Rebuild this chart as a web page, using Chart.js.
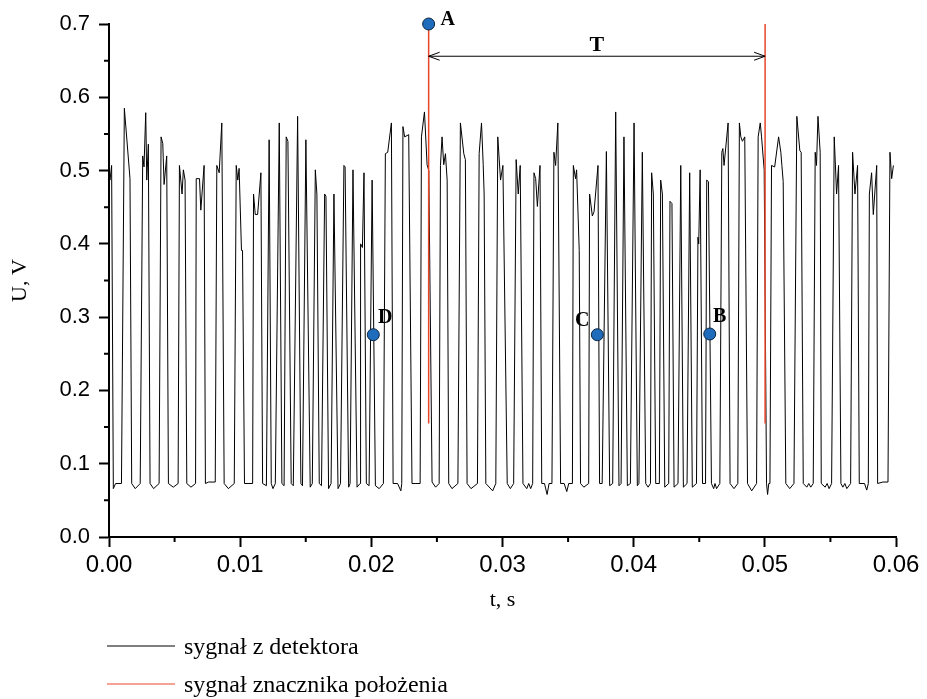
<!DOCTYPE html>
<html>
<head>
<meta charset="utf-8">
<script src="https://cdn.jsdelivr.net/npm/chart.js@4.4.1/dist/chart.umd.min.js"></script>
<style>
  html, body { margin: 0; padding: 0; background: #fff; }
  #wrap { width: 927px; height: 699px; }
</style>
</head>
<body>
<div id="wrap"><canvas id="signalChart" width="927" height="699"></canvas></div>
<script>
/*************************************************
 * DATA
 *************************************************/
// time, s
const signalT = [
  0, 0.00008, 0.00020, 0.00033, 0.00050, 0.00095,
  0.00117, 0.00160, 0.00173, 0.00200, 0.00238,
  0.00257, 0.00267, 0.00280, 0.00288, 0.00300, 0.00313, 0.00340, 0.00382,
  0.00397, 0.00410, 0.00420, 0.00440, 0.00453, 0.00490, 0.00527,
  0.00537, 0.00557, 0.00567, 0.00580, 0.00593, 0.00625, 0.00660,
  0.00665, 0.00690, 0.00700, 0.00725, 0.00735, 0.00760, 0.00810,
  0.00822, 0.00840, 0.00860, 0.00878, 0.00910, 0.00955,
  0.00970, 0.00982, 0.00992, 0.01010, 0.01018, 0.01033, 0.01060, 0.01095,
  0.01102, 0.01115, 0.01133, 0.01158, 0.01171, 0.01200,
  0.01221, 0.01237, 0.01250, 0.01268,
  0.01298, 0.01318, 0.01335,
  0.01351, 0.01364, 0.01389, 0.01405,
  0.01438, 0.01463, 0.01475,
  0.01501, 0.01534, 0.01550,
  0.01573, 0.01585, 0.01603, 0.01620,
  0.01644, 0.01654, 0.01674, 0.01693,
  0.01715, 0.01746, 0.01765,
  0.01791, 0.01800, 0.01827, 0.01838,
  0.01860, 0.01891, 0.01914,
  0.01918, 0.01932, 0.01944, 0.01962, 0.01983,
  0.02006, 0.02031, 0.02060, 0.02092,
  0.02107, 0.02125, 0.02153, 0.02166, 0.02200, 0.02225, 0.02232,
  0.02241, 0.02254, 0.02285, 0.02310, 0.02340, 0.02372,
  0.02382, 0.02405, 0.02425, 0.02438, 0.02463, 0.02490, 0.02517,
  0.02527, 0.02539, 0.02552, 0.02565, 0.02578, 0.02590, 0.02615, 0.02660,
  0.02679, 0.02705, 0.02717, 0.02730, 0.02760, 0.02809,
  0.02822, 0.02840, 0.02853, 0.02860, 0.02873, 0.02925, 0.02949,
  0.02964, 0.02985, 0.03003, 0.03036, 0.03060, 0.03085,
  0.03104, 0.03120, 0.03135, 0.03156, 0.03185, 0.03200, 0.03215, 0.03230,
  0.03240, 0.03253, 0.03266, 0.03286, 0.03299, 0.03320, 0.03340, 0.03355, 0.03377,
  0.03392, 0.03405, 0.03422, 0.03443, 0.03470, 0.03490, 0.03505, 0.03533,
  0.03540, 0.03557, 0.03565, 0.03585, 0.03595, 0.03620, 0.03657,
  0.03664, 0.03685, 0.03698, 0.03728, 0.03740, 0.03760,
  0.03792, 0.03817, 0.03840,
  0.03863, 0.03888, 0.03904,
  0.03926, 0.03952, 0.03975,
  0.04003, 0.04028, 0.04040,
  0.04066, 0.04092, 0.04110, 0.04128,
  0.04137, 0.04150, 0.04168, 0.04196,
  0.04206, 0.04219, 0.04237, 0.04267,
  0.04277, 0.04292, 0.04308, 0.04338,
  0.04359, 0.04379, 0.04407,
  0.04427, 0.04447, 0.04479,
  0.04490, 0.04496, 0.04507, 0.04525, 0.04548,
  0.04557, 0.04570, 0.04593, 0.04610, 0.04620, 0.04632, 0.04657,
  0.04672, 0.04680, 0.04689, 0.04720, 0.04735, 0.04765, 0.04794,
  0.04806, 0.04817, 0.04829, 0.04847, 0.04868, 0.04900, 0.04937,
  0.04949, 0.04965, 0.04975, 0.04995, 0.05013, 0.05021, 0.05030, 0.05039,
  0.05051, 0.05075, 0.05105, 0.05122, 0.05130, 0.05140, 0.05160, 0.05190, 0.05222,
  0.05244, 0.05267, 0.05277, 0.05293, 0.05320, 0.05335, 0.05350, 0.05369,
  0.05384, 0.05394, 0.05405, 0.05422, 0.05430, 0.05460, 0.05475, 0.05490, 0.05509,
  0.05529, 0.05547, 0.05562, 0.05580, 0.05595, 0.05610, 0.05625, 0.05654,
  0.05669, 0.05687, 0.05707, 0.05720, 0.05760, 0.05777, 0.05789,
  0.05797, 0.05814, 0.05827, 0.05853, 0.05860, 0.05900, 0.05939,
  0.05954, 0.05967, 0.05980
];

// detector voltage, V
const signalU = [
  0.490, 0.487, 0.507, 0.066, 0.073, 0.073,
  0.585, 0.489, 0.073, 0.066, 0.073,
  0.520, 0.505, 0.579, 0.487, 0.536, 0.073, 0.066, 0.073,
  0.546, 0.537, 0.481, 0.520, 0.073, 0.068, 0.073,
  0.507, 0.468, 0.501, 0.487, 0.073, 0.068, 0.073,
  0.489, 0.489, 0.446, 0.507, 0.073, 0.075, 0.075,
  0.507, 0.497, 0.565, 0.073, 0.066, 0.073,
  0.507, 0.487, 0.503, 0.391, 0.391, 0.073, 0.073, 0.073,
  0.468, 0.440, 0.440, 0.497, 0.073, 0.070,
  0.542, 0.073, 0.066, 0.073,
  0.565, 0.073, 0.070,
  0.546, 0.540, 0.073, 0.070,
  0.574, 0.073, 0.070,
  0.542, 0.068, 0.073,
  0.501, 0.468, 0.073, 0.070,
  0.468, 0.465, 0.066, 0.073,
  0.468, 0.066, 0.073,
  0.507, 0.505, 0.068, 0.073,
  0.501, 0.068, 0.073,
  0.400, 0.395, 0.497, 0.073, 0.070,
  0.487, 0.070, 0.066, 0.073,
  0.523, 0.525, 0.565, 0.073, 0.073, 0.063, 0.073,
  0.560, 0.546, 0.549, 0.073, 0.073, 0.073,
  0.546, 0.580, 0.508, 0.500, 0.075, 0.068, 0.073,
  0.507, 0.546, 0.508, 0.523, 0.487, 0.073, 0.066, 0.073,
  0.565, 0.523, 0.515, 0.073, 0.066, 0.073,
  0.523, 0.565, 0.508, 0.468, 0.073, 0.063, 0.073,
  0.546, 0.487, 0.507, 0.073, 0.066, 0.073,
  0.515, 0.468, 0.507, 0.073, 0.066, 0.073, 0.066, 0.073,
  0.497, 0.489, 0.451, 0.507, 0.073, 0.073, 0.058, 0.073, 0.073,
  0.525, 0.507, 0.565, 0.073, 0.073, 0.062, 0.073, 0.073,
  0.507, 0.489, 0.501, 0.391, 0.073, 0.068, 0.073,
  0.468, 0.438, 0.444, 0.507, 0.073, 0.073,
  0.526, 0.070, 0.073,
  0.580, 0.070, 0.073,
  0.546, 0.070, 0.073,
  0.565, 0.070, 0.073,
  0.525, 0.073, 0.068, 0.073,
  0.497, 0.468, 0.073, 0.073,
  0.487, 0.468, 0.068, 0.073,
  0.458, 0.455, 0.068, 0.073,
  0.507, 0.068, 0.073,
  0.497, 0.068, 0.073,
  0.409, 0.400, 0.501, 0.073, 0.073,
  0.487, 0.485, 0.073, 0.066, 0.073, 0.066, 0.073,
  0.525, 0.530, 0.507, 0.565, 0.073, 0.066, 0.073,
  0.565, 0.546, 0.540, 0.546, 0.073, 0.063, 0.073,
  0.546, 0.565, 0.546, 0.501, 0.073, 0.058, 0.073, 0.073,
  0.507, 0.505, 0.546, 0.525, 0.507, 0.485, 0.073, 0.066, 0.073,
  0.574, 0.527, 0.525, 0.073, 0.068, 0.073, 0.068, 0.073,
  0.525, 0.507, 0.574, 0.525, 0.073, 0.068, 0.073, 0.066, 0.073,
  0.546, 0.468, 0.507, 0.073, 0.068, 0.073, 0.066, 0.073,
  0.525, 0.468, 0.507, 0.073, 0.073, 0.064, 0.073,
  0.468, 0.497, 0.440, 0.507, 0.073, 0.075, 0.075,
  0.525, 0.489, 0.507
];

// position marker pulses (vertical red lines)
const markerT = [0.02437, 0.05002];
const markerLow = 0.155;
const markerHigh = 0.700;
const periodLevel = 0.656;   // height of the T arrow

// labelled points
const pointNames = ["A", "B", "C", "D"];
const pointT = [0.02437, 0.04580, 0.03723, 0.02015];
const pointU = [0.700, 0.277, 0.276, 0.276];

// axes
const xTickLabels = ["0.00", "0.01", "0.02", "0.03", "0.04", "0.05", "0.06"];
const yTickLabels = ["0.0", "0.1", "0.2", "0.3", "0.4", "0.5", "0.6", "0.7"];

/*************************************************
 * STYLE
 *************************************************/
const SANS = "'Liberation Sans', Arial, sans-serif";
const SERIF = "'Liberation Serif', 'Times New Roman', serif";
const RED = "#e8462b";
const BLUE = "#1f6cbd";

// label offsets next to the dots, px
const labelOffset = { A: [19, -4], B: [10, -17], C: [-15, -14], D: [12, -17] };

/*************************************************
 * PLUGINS
 *************************************************/
const minorTicks = {
  id: "minorTicks",
  afterDraw(chart) {
    const { ctx, chartArea, scales } = chart;
    ctx.save();
    ctx.strokeStyle = "#000";
    ctx.lineWidth = 2;
    ctx.beginPath();
    const xt = scales.x.ticks;
    for (let i = 0; i < xt.length - 1; i++) {
      const px = scales.x.getPixelForValue((xt[i].value + xt[i + 1].value) / 2);
      ctx.moveTo(px, chartArea.bottom);
      ctx.lineTo(px, chartArea.bottom + 5);
    }
    const yt = scales.y.ticks;
    for (let i = 0; i < yt.length - 1; i++) {
      const py = scales.y.getPixelForValue((yt[i].value + yt[i + 1].value) / 2);
      ctx.moveTo(chartArea.left, py);
      ctx.lineTo(chartArea.left - 5, py);
    }
    ctx.stroke();
    ctx.restore();
  }
};

const annotations = {
  id: "annotations",
  afterDraw(chart) {
    const { ctx, scales } = chart;
    const x1 = scales.x.getPixelForValue(markerT[0]);
    const x2 = scales.x.getPixelForValue(markerT[1]);
    const ya = scales.y.getPixelForValue(periodLevel);

    ctx.save();
    // T arrow
    ctx.strokeStyle = "#000";
    ctx.lineWidth = 1;
    ctx.beginPath();
    ctx.moveTo(x1, ya);
    ctx.lineTo(x2, ya);
    ctx.moveTo(x1 + 11, ya - 4);
    ctx.lineTo(x1, ya);
    ctx.lineTo(x1 + 11, ya + 4);
    ctx.moveTo(x2 - 11, ya - 4);
    ctx.lineTo(x2, ya);
    ctx.lineTo(x2 - 11, ya + 4);
    ctx.stroke();

    ctx.fillStyle = "#000";
    ctx.font = "bold 22px " + SERIF;
    ctx.textAlign = "center";
    ctx.textBaseline = "middle";
    ctx.fillText("T", (x1 + x2) / 2, ya - 11);

    // point labels
    ctx.font = "bold 20px " + SERIF;
    pointNames.forEach((name, i) => {
      const px = scales.x.getPixelForValue(pointT[i]);
      const py = scales.y.getPixelForValue(pointU[i]);
      const off = labelOffset[name];
      ctx.fillText(name, px + off[0], py + off[1]);
    });

    // legend (dataset order)
    const items = chart.data.datasets.filter(d => d.label);
    ctx.textAlign = "left";
    ctx.textBaseline = "alphabetic";
    ctx.font = "24px " + SERIF;
    items.forEach((d, i) => {
      const y = 646 + i * 38;
      ctx.strokeStyle = d.borderColor;
      ctx.lineWidth = 1;
      ctx.beginPath();
      ctx.moveTo(107, y);
      ctx.lineTo(175, y);
      ctx.stroke();
      ctx.fillStyle = "#000";
      ctx.fillText(d.label, 184, y + 8);
    });
    ctx.restore();
  }
};

/*************************************************
 * CHART
 *************************************************/
function buildMarkerData() {
  const out = [];
  markerT.forEach(t => {
    out.push({ x: t, y: markerLow }, { x: t, y: markerHigh }, { x: t, y: null });
  });
  return out;
}

function renderSignal(id) {
  const el = document.getElementById(id);
  if (!el) return;

  new Chart(el, {
    type: "line",
    data: {
      datasets: [
        {
          label: "",
          data: pointT.map((t, i) => ({ x: t, y: pointU[i] })),
          showLine: false,
          clip: false,
          pointRadius: 6,
          pointBackgroundColor: BLUE,
          pointBorderColor: "#0b2440",
          pointBorderWidth: 1,
          order: 0
        },
        {
          label: "sygnał z detektora",
          data: signalT.map((t, i) => ({ x: t, y: signalU[i] })),
          borderColor: "#000",
          borderWidth: 1,
          pointRadius: 0,
          tension: 0,
          order: 2
        },
        {
          label: "sygnał znacznika położenia",
          data: buildMarkerData(),
          borderColor: RED,
          borderWidth: 1.5,
          pointRadius: 0,
          spanGaps: false,
          clip: false,
          order: 1
        }
      ]
    },
    options: {
      responsive: false,
      animation: false,
      layout: { padding: { left: 0, right: 31, top: 24, bottom: 82 } },
      plugins: {
        legend: { display: false },
        tooltip: { enabled: false }
      },
      scales: {
        x: {
          type: "linear",
          min: 0,
          max: 0.06,
          afterFit: s => { s.height = 80; },
          border: { display: true, color: "#000", width: 2 },
          grid: { drawOnChartArea: false, drawTicks: true, tickLength: 10, tickColor: "#000", tickWidth: 2 },
          ticks: {
            stepSize: 0.01,
            maxRotation: 0,
            padding: 4,
            color: "#000",
            font: { family: SANS, size: 24 },
            callback: (v, i) => xTickLabels[i]
          },
          title: {
            display: true,
            text: "t, s",
            color: "#000",
            font: { family: SERIF, size: 22 },
            padding: { top: 0, bottom: 4 }
          }
        },
        y: {
          type: "linear",
          min: 0,
          max: 0.7,
          afterFit: s => { s.width = 109; },
          border: { display: true, color: "#000", width: 2 },
          grid: { drawOnChartArea: false, drawTicks: true, tickLength: 10, tickColor: "#000", tickWidth: 2 },
          ticks: {
            stepSize: 0.1,
            padding: 9,
            color: "#000",
            font: { family: SANS, size: 22 },
            callback: (v, i) => yTickLabels[i]
          },
          title: {
            display: true,
            text: "U, V",
            color: "#000",
            font: { family: SERIF, size: 22 },
            padding: { top: 7, bottom: 0 }
          }
        }
      }
    },
    plugins: [minorTicks, annotations]
  });
}

document.addEventListener("DOMContentLoaded", () => {
  renderSignal("signalChart");
});
</script>
</body>
</html>
